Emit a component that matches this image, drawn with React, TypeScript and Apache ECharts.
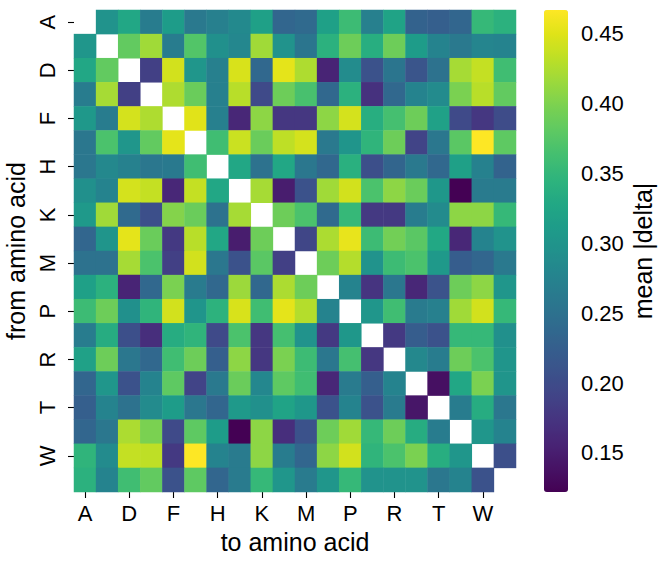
import React, { useEffect, useRef } from "react";
import * as echarts from "echarts";

const aminoAcids = ["A","C","D","E","F","G","H","I","K","L","M","N","P","Q","R","S","T","V","W","Y"];

const rowA = [null,.297,.327,.266,.312,.261,.271,.284,.317,.235,.240,.317,.358,.271,.322,.230,.225,.235,.352,.342];
const rowC = [.302,null,.383,.418,.266,.373,.293,.281,.418,.297,.256,.342,.390,.337,.390,.312,.276,.261,.279,.276];
const rowD = [.327,.383,null,.187,.443,.302,.271,.446,.238,.453,.425,.156,.288,.208,.256,.212,.251,.421,.436,.360];
const rowE = [.266,.421,.187,null,.425,.388,.271,.430,.198,.390,.366,.238,.342,.170,.238,.276,.286,.398,.430,.383];
const rowF = [.305,.266,.444,.425,null,.451,.271,.160,.408,.177,.177,.408,.444,.337,.364,.390,.319,.198,.177,.201];
const rowG = [.258,.368,.302,.383,.453,null,.360,.439,.388,.433,.444,.261,.300,.347,.390,.191,.258,.378,.467,.381];
const rowH = [.258,.283,.273,.258,.262,.360,null,.327,.251,.327,.258,.238,.340,.205,.233,.261,.238,.317,.273,.231];
const rowI = [.293,.276,.444,.436,.160,.436,.327,null,.421,.149,.208,.418,.443,.368,.408,.388,.304,.122,.264,.264];
const rowK = [.307,.418,.240,.205,.403,.388,.251,.421,null,.390,.368,.240,.352,.179,.179,.266,.286,.408,.408,.352];
const rowL = [.235,.300,.453,.388,.179,.430,.327,.149,.390,null,.193,.424,.455,.358,.393,.378,.329,.160,.276,.297];
const rowM = [.251,.251,.421,.368,.187,.443,.258,.208,.378,.187,null,.390,.428,.297,.358,.368,.307,.223,.235,.261];
const rowN = [.317,.342,.156,.238,.398,.264,.238,.416,.238,.424,.390,null,.276,.174,.258,.160,.209,.390,.408,.302];
const rowP = [.358,.390,.293,.347,.443,.300,.344,.446,.360,.453,.428,.276,null,.302,.360,.264,.271,.418,.443,.352];
const rowQ = [.266,.335,.205,.167,.335,.347,.198,.368,.177,.364,.297,.179,.304,null,.179,.223,.208,.352,.352,.293];
const rowR = [.319,.390,.258,.237,.360,.390,.225,.408,.177,.398,.358,.258,.364,.177,null,.283,.266,.390,.368,.300];
const rowS = [.235,.302,.208,.276,.381,.191,.261,.388,.281,.381,.360,.160,.264,.225,.276,null,.136,.327,.398,.300];
const rowT = [.225,.276,.251,.286,.312,.258,.235,.307,.293,.322,.304,.208,.276,.208,.264,.142,null,.266,.335,.258];
const rowV = [.235,.258,.424,.398,.198,.381,.312,.122,.408,.167,.208,.390,.418,.352,.390,.335,.266,null,.302,.276];
const rowW = [.347,.286,.436,.433,.179,.467,.276,.264,.408,.266,.235,.408,.443,.347,.368,.398,.337,.302,null,.205];
const rowY = [.342,.276,.360,.383,.208,.381,.235,.264,.352,.302,.264,.302,.352,.297,.297,.297,.258,.276,.208,null];

const matrix = [rowA,rowC,rowD,rowE,rowF,rowG,rowH,rowI,rowK,rowL,rowM,rowN,rowP,rowQ,rowR,rowS,rowT,rowV,rowW,rowY];

const colorMin = 0.122;
const colorMax = 0.467;
const colorbarTicks = [0.15, 0.2, 0.25, 0.3, 0.35, 0.4, 0.45];

const viridis = [
  "#440154","#471365","#482475","#463480","#414487","#3b528b","#355f8d",
  "#2f6c8e","#2a788e","#25848e","#21918c","#1e9c89","#22a884","#2fb47c",
  "#44bf70","#5ec962","#7ad151","#9bd93c","#bddf26","#dfe318","#fde725",
];

const FONT = "'Liberation Sans', Arial, 'DejaVu Sans', sans-serif";

export default function App() {
  const ref = useRef<HTMLDivElement>(null);
  useEffect(() => {
    if (!ref.current) return;
    const chart = echarts.init(ref.current, undefined, { renderer: "svg" });
    const data: any[] = [];
    matrix.forEach((row, i) => {
      row.forEach((v, j) => {
        if (v !== null) data.push([j, i, v]);
      });
    });
    const labelStyle = { color: "#000", fontSize: 22, fontFamily: FONT };
    const nameStyle = { color: "#000", fontSize: 25, fontFamily: FONT };
    const tick = { show: true, length: 6, lineStyle: { color: "#000", width: 1.1 } };
    chart.setOption({
      animation: false,
      backgroundColor: "#fff",
      grid: [
        { left: 74, top: 10, width: 442, height: 482, containLabel: false, outerBoundsMode: "none" },
        { left: 544, top: 10, width: 24, height: 482, containLabel: false, outerBoundsMode: "none" },
      ],
      xAxis: [
        {
          type: "category",
          gridIndex: 0,
          data: aminoAcids,
          axisLine: { show: false },
          splitArea: { show: false },
          axisTick: { ...tick, interval: 1, alignWithLabel: true },
          axisLabel: { ...labelStyle, interval: 1, margin: 10 },
          name: "to amino acid",
          nameLocation: "middle",
          nameGap: 37,
          nameTextStyle: nameStyle,
        },
        { type: "value", gridIndex: 1, show: false, min: 0, max: 1 },
      ],
      yAxis: [
        {
          type: "category",
          gridIndex: 0,
          data: aminoAcids,
          inverse: true,
          axisLine: { show: false },
          splitArea: { show: false },
          axisTick: { ...tick, interval: 1, alignWithLabel: true },
          axisLabel: { ...labelStyle, interval: 1, rotate: 90, margin: 16 },
          name: "from amino acid",
          nameLocation: "middle",
          nameRotate: 90,
          nameGap: 43,
          nameTextStyle: nameStyle,
        },
        {
          type: "value",
          gridIndex: 1,
          position: "right",
          min: colorMin,
          max: colorMax,
          axisLine: { show: false },
          splitLine: { show: false },
          axisTick: { ...tick, customValues: colorbarTicks },
          axisLabel: { ...labelStyle, margin: 13, customValues: colorbarTicks, formatter: (v: number) => v.toFixed(2) },
          name: "mean |delta|",
          nameLocation: "middle",
          nameRotate: 90,
          nameGap: 62,
          nameTextStyle: nameStyle,
        },
      ],
      visualMap: {
        type: "continuous",
        min: colorMin,
        max: colorMax,
        seriesIndex: 0,
        calculable: false,
        orient: "vertical",
        left: 544,
        top: 10,
        padding: 0,
        itemWidth: 24,
        itemHeight: 482,
        inRange: { color: viridis },
        hoverLink: false,
      },
      series: [
        {
          type: "heatmap",
          xAxisIndex: 0,
          yAxisIndex: 0,
          data,
          itemStyle: { borderWidth: 0 },
          emphasis: { disabled: true },
        },
      ],
    });
    return () => chart.dispose();
  }, []);
  return <div ref={ref} style={{ position: "fixed", left: 0, top: 0, width: 665, height: 566 }} />;
}
